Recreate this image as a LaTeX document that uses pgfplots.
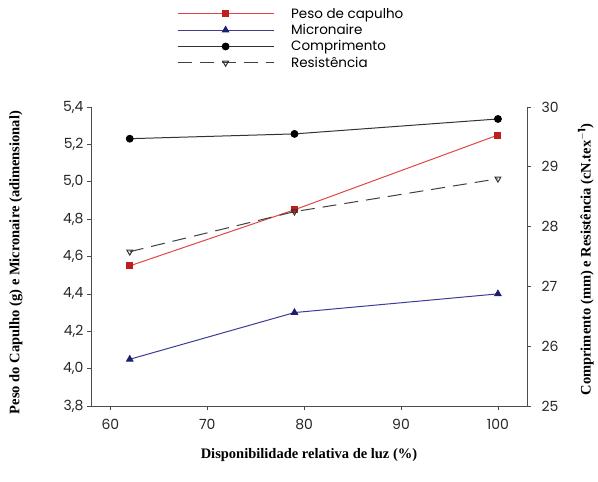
\documentclass[border=0pt]{standalone}
\usepackage{pgfplots}
\pgfplotsset{compat=1.18}
\usepackage{fontspec}
\setmainfont{Poppins}
\newfontfamily\labfont{Liberation Serif}
\definecolor{cred}{RGB}{225,70,70}
\definecolor{cdred}{RGB}{190,30,30}
\definecolor{cblue}{RGB}{60,60,150}
\definecolor{cdblue}{RGB}{30,30,110}
\begin{document}
\begin{tikzpicture}
\useasboundingbox (0,0) rectangle (598pt,482pt);
\pgfplotsset{
  base/.style={
    at={(91pt,76pt)}, anchor=south west,
    scale only axis, width=436pt, height=299pt,
    xmin=58, xmax=103,
    tick align=outside, major tick length=4pt,
    tick style={black!70, line width=0.6pt},
    axis line style={black!70, line width=0.8pt},
    ticklabel style={font=\fontsize{14}{16}\selectfont, text=black!85},
    /pgf/number format/assume math mode=true,
  }
}
\begin{axis}[base,
  axis x line*=bottom, axis y line*=left,
  xtick={60,70,80,90,100},
  xticklabel style={yshift=-6pt},
  ymin=3.8, ymax=5.4,
  ytick={3.8,4.0,4.2,4.4,4.6,4.8,5.0,5.2,5.4},
  yticklabel style={/pgf/number format/.cd, fixed, fixed zerofill, precision=1, use comma},
  xlabel={\labfont\bfseries Disponibilidade relativa de luz (\%)},
  ylabel={\labfont\bfseries Peso do Capulho (g) e Micronaire (adimensional)},
  every axis x label/.style={at={(axis description cs:0.5,-0.164)}, anchor=center, font=\fontsize{14.5}{16}\selectfont},
  every axis y label/.style={at={(axis description cs:-0.172,0.48)}, rotate=90, anchor=center, font=\fontsize{14.5}{16}\selectfont},
  legend style={at={(axis description cs:0.197,1.338)}, anchor=north west, draw=none, fill=none,
    font=\fontsize{13.5}{15}\selectfont, row sep=0.6pt, inner sep=0pt,
    /tikz/every odd column/.append style={column sep=15pt}},
  legend cell align=left,
  legend image code/.code={\draw[mark repeat=2,mark phase=2,#1] plot coordinates {(0pt,0pt) (48pt,0pt) (96pt,0pt)};},
]
\addplot[cred, line width=1pt, mark=square*, mark size=3pt, mark options={fill=cdred, draw=cdred, solid}]
  coordinates {(62,4.55) (79,4.85) (100,5.25)};
\addlegendentry{Peso de capulho}
\addplot[cblue, line width=1pt, mark=triangle*, mark size=3.6pt, mark options={fill=cdblue, draw=cdblue, solid}]
  coordinates {(62,4.05) (79,4.30) (100,4.40)};
\addlegendentry{Micronaire}
\addlegendimage{black!80, line width=1pt, mark=*, mark size=3.4pt, mark options={fill=black, draw=black, solid}}
\addlegendentry{Comprimento}
\addlegendimage{black!75, line width=1pt, dash pattern=on 14pt off 8pt, mark=triangle, mark size=3.4pt, mark options={fill=white, draw=black!80, solid, rotate=180}}
\addlegendentry{Resistência}
\end{axis}
\begin{axis}[base,
  axis x line=none, axis y line*=right,
  ymin=25, ymax=30, ytick={25,26,27,28,29,30},
  yticklabel style={xshift=7pt},
  ylabel={\labfont\bfseries Comprimento (mm) e Resistência (cN.tex$^{\mathbf{-1}}$)},
  every axis y label/.style={at={(axis description cs:1.135,0.49)}, rotate=90, anchor=center, font=\fontsize{14.5}{16}\selectfont},
]
\addplot[black!80, line width=1pt, mark=*, mark size=3.4pt, mark options={fill=black, draw=black, solid}]
  coordinates {(62,29.47) (79,29.55) (100,29.80)};
\addplot[black!75, line width=1pt, dash pattern=on 14pt off 8pt, mark=triangle, mark size=3.4pt, mark options={fill=white, draw=black!80, solid, rotate=180}]
  coordinates {(62,27.58) (79,28.25) (100,28.80)};
\end{axis}
\end{tikzpicture}
\end{document}
